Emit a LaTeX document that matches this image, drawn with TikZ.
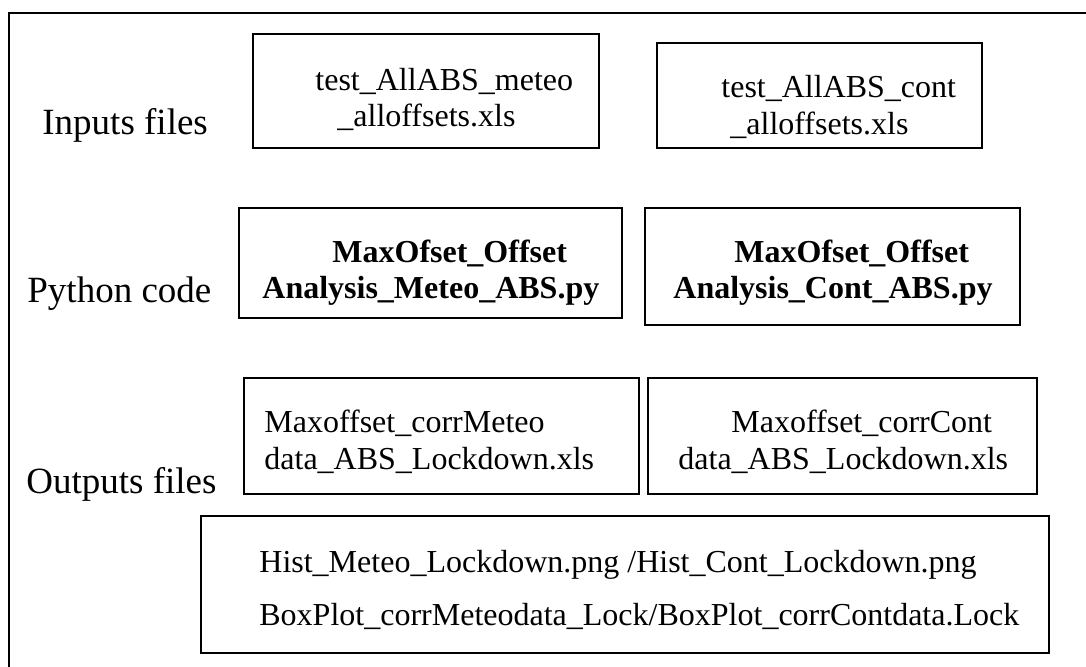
\documentclass[tikz,border=0pt]{standalone}
\usepackage{fontspec}
\setmainfont{Liberation Serif}
\begin{document}
\begin{tikzpicture}[x=0.5pt,y=-0.5pt,
  filebox/.style={draw=black, line width=0.7pt, rectangle, inner sep=0pt},
  rowlabel/.style={anchor=base west, inner sep=0pt, font=\fontsize{18.5}{22}\selectfont},
  boxtext/.style={anchor=base west, inner sep=0pt, font=\fontsize{16}{19}\selectfont},
  codetext/.style={boxtext, font=\fontsize{16}{19}\selectfont\bfseries}]
\useasboundingbox (0,0) rectangle (1086,667);

% rectangle node from its two corners (left, top, right, bottom)
\newcommand\cornerbox[5]{%
  \node[filebox, minimum width={(#4-#2)*0.5pt}, minimum height={(#5-#3)*0.5pt}]
    (#1) at ({(#2+#4)/2},{(#3+#5)/2}) {};}

% outer frame (top and left edges)
\coordinate (frameTR) at (1086,13);
\coordinate (frameTL) at (9,13);
\coordinate (frameBL) at (9,667);
\draw[line width=0.7pt] (frameTR) -- (frameTL) -- (frameBL);

% row labels
\node[rowlabel] (lblIn)  at (42,135) {Inputs files};
\node[rowlabel] (lblPy)  at (27,303) {Python code};
\node[rowlabel] (lblOut) at (26,494) {Outputs files};

% input files
\cornerbox{inMeteo}{253}{34}{599}{148}
\cornerbox{inCont}{657}{43}{982}{148}
\node[boxtext] (inMeteoA) at (315,91)  {test\_AllABS\_meteo};
\node[boxtext] (inMeteoB) at (337,127) {\_alloffsets.xls};
\node[boxtext] (inContA)  at (721,98)  {test\_AllABS\_cont};
\node[boxtext] (inContB)  at (730,135) {\_alloffsets.xls};

% python scripts
\cornerbox{pyMeteo}{239}{208}{622}{318}
\cornerbox{pyCont}{645}{208}{1020}{325}
\node[codetext] (pyMeteoA) at (332,263) {MaxOfset\_Offset};
\node[codetext] (pyMeteoB) at (262,299) {Analysis\_Meteo\_ABS.py};
\node[codetext] (pyContA)  at (734,263) {MaxOfset\_Offset};
\node[codetext] (pyContB)  at (673,299) {Analysis\_Cont\_ABS.py};

% output files
\cornerbox{outMeteo}{244}{378}{639}{494}
\cornerbox{outCont}{648}{378}{1037}{494}
\node[boxtext] (outMeteoA) at (264,433) {Maxoffset\_corrMeteo};
\node[boxtext] (outMeteoB) at (264,470) {data\_ABS\_Lockdown.xls};
\node[boxtext] (outContA)  at (731,433) {Maxoffset\_corrCont};
\node[boxtext] (outContB)  at (678,470) {data\_ABS\_Lockdown.xls};

% figures
\cornerbox{figs}{201}{516}{1049}{653}
\node[boxtext] (figsA) at (259,572) {Hist\_Meteo\_Lockdown.png /Hist\_Cont\_Lockdown.png};
\node[boxtext] (figsB) at (259,625) {BoxPlot\_corrMeteodata\_Lock/BoxPlot\_corrContdata.Lock};
\end{tikzpicture}
\end{document}
